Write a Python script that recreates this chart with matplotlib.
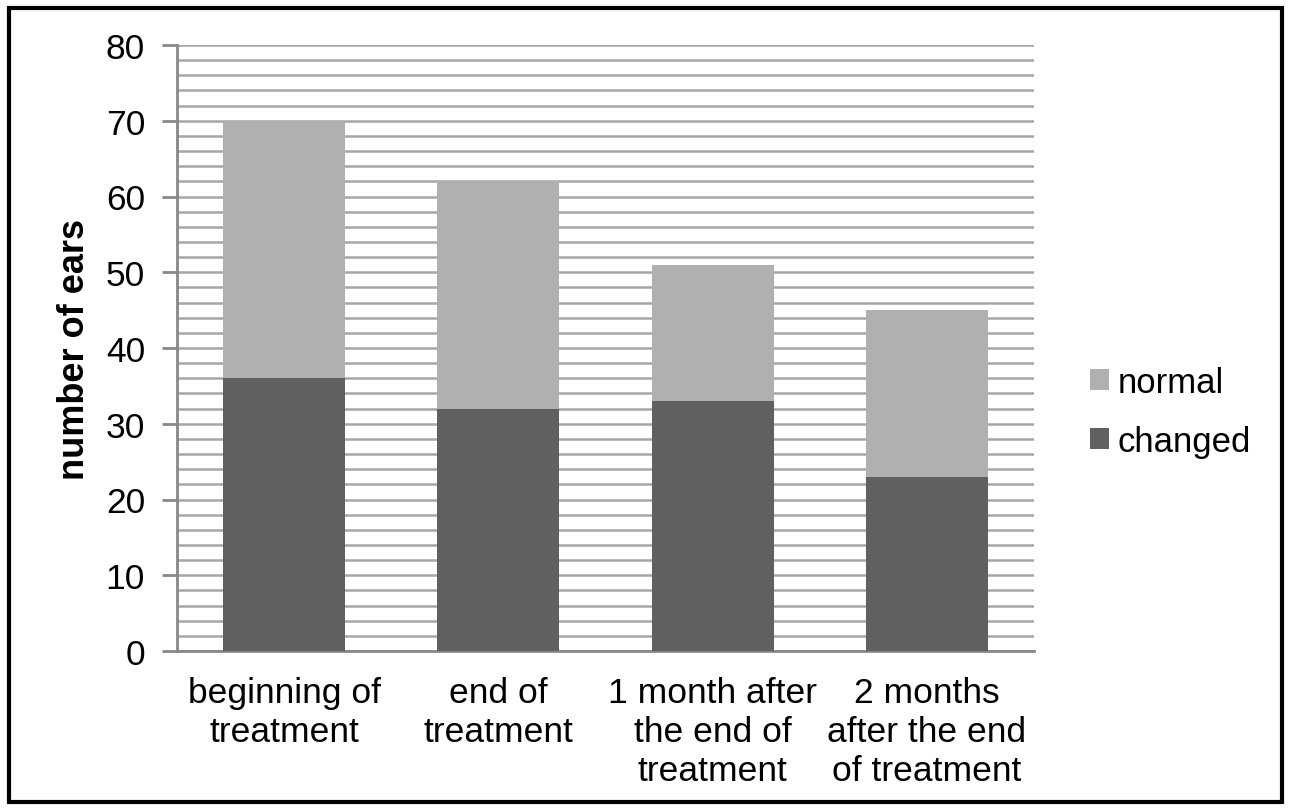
import matplotlib
matplotlib.use("Agg")
import matplotlib.pyplot as plt
from matplotlib.patches import Rectangle

categories = ["beginning of\ntreatment", "end of\ntreatment",
              "1 month after\nthe end of\ntreatment", "2 months\nafter the end\nof treatment"]
changed = [36, 32, 33, 23]
normal = [34, 30, 18, 22]

plt.rcParams['font.family'] = ['Liberation Sans', 'DejaVu Sans']

fig = plt.figure(figsize=(12.91, 8.12), dpi=100)
ax = fig.add_axes([177/1291, 1-652/812, (1034-177)/1291, (652-46)/812])

x = list(range(len(categories)))
w = 0.57
ax.bar(x, changed, width=w, color='#606060', label='changed', zorder=3)
ax.bar(x, normal, width=w, bottom=changed, color='#b0b0b0', label='normal', zorder=3)

ax.set_ylim(0, 80)
ax.set_xlim(-0.5, 3.5)
ax.set_yticks(range(0, 81, 10))
ax.set_yticks(range(0, 81, 2), minor=True)
ax.grid(axis='y', which='both', color='#a6a6a6', linewidth=1.8, zorder=0)
ax.tick_params(axis='y', which='major', length=11, width=2, color='#888888',
               labelsize=25.5, pad=12)
ax.tick_params(axis='y', which='minor', length=0)
ax.set_xticks(x)
ax.set_xticklabels(categories, fontsize=25.5, linespacing=1.24)
ax.tick_params(axis='x', length=0, pad=18)
for s in ['top', 'right']:
    ax.spines[s].set_visible(False)
ax.spines['left'].set_color('#888888')
ax.spines['left'].set_linewidth(2)
ax.spines['bottom'].set_color('#888888')
ax.spines['bottom'].set_linewidth(2)

ax.set_ylabel('number of ears', fontsize=26, fontweight='bold', labelpad=10)

handles, labels = ax.get_legend_handles_labels()
leg = fig.legend(handles[::-1], labels[::-1], loc='center left',
                 bbox_to_anchor=(1090/1291, 1-413/812), frameon=False,
                 fontsize=25, handlelength=0.55, handleheight=0.55,
                 handletextpad=0.25, labelspacing=0.75, borderaxespad=0,
                 borderpad=0)

fig.patches.append(Rectangle((9/1291, 9/812), 1-18/1291, 1-18/812,
                             transform=fig.transFigure, fill=False,
                             edgecolor='black', linewidth=3))

fig.savefig('out.png', dpi=100)
